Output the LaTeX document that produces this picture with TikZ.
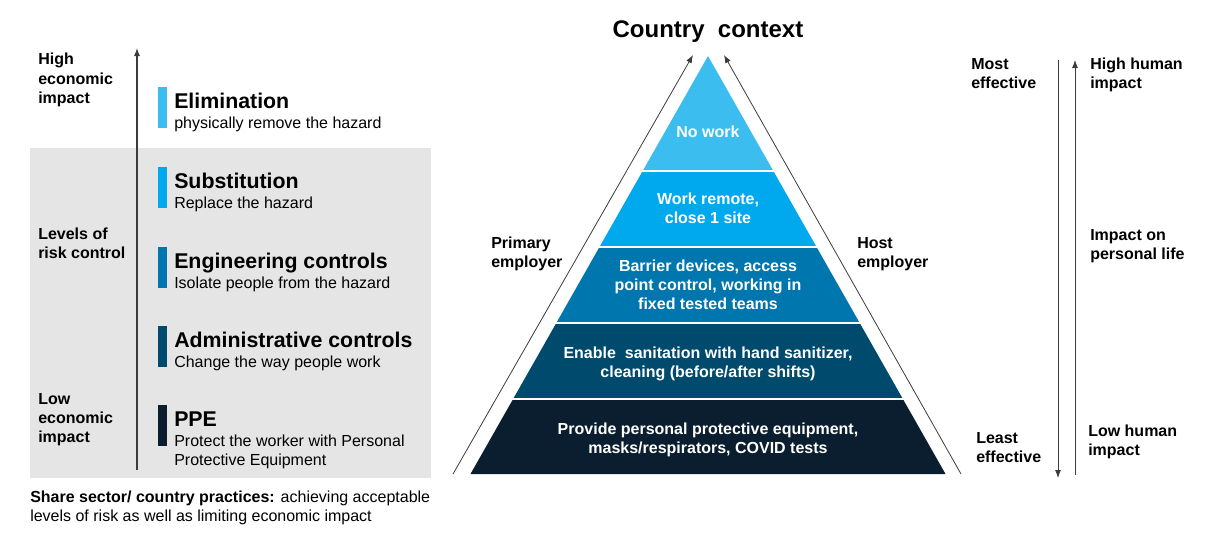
\documentclass[tikz,border=0pt]{standalone}
\usepackage{fontspec}
\setmainfont{Liberation Sans}
\usetikzlibrary{arrows.meta,positioning}

\definecolor{lvlOne}{HTML}{3BBDF0}
\definecolor{lvlTwo}{HTML}{00A9EE}
\definecolor{lvlThree}{HTML}{0076AE}
\definecolor{lvlFour}{HTML}{004A6E}
\definecolor{lvlFive}{HTML}{0A1E2F}
\definecolor{boxGray}{HTML}{E5E5E5}
\definecolor{axisGray}{HTML}{3C3C3C}

\newcommand\bodyFont{\fontsize{12}{14.25}\selectfont}
\newcommand\apexX{708}
\newcommand\apexY{56}
\newcommand\pyrSlope{0.5682}

\begin{document}
\begin{tikzpicture}[x=0.75pt,y={(0pt,-0.75pt)},
    sideLabel/.style={font=\bodyFont\bfseries,align=left,anchor=base west,inner sep=0pt},
    lvlTitle/.style={font=\fontsize{16}{19}\selectfont\bfseries,anchor=base west,inner sep=0pt},
    lvlSub/.style={font=\bodyFont,align=left,anchor=base west,inner sep=0pt},
    bandText/.style={font=\bodyFont\bfseries,text=white,align=center,anchor=base,inner sep=0pt},
    axisArrow/.style={draw=axisGray,line width=0.8pt,-{Latex[length=6pt,width=4.5pt]}},
    sideArrow/.style={draw=axisGray,line width=0.6pt,-{Latex[length=6pt,width=4.5pt]}}]
    \useasboundingbox (0,0) rectangle (1222,546);

    % grey panel
    \fill[boxGray] (30,148) rectangle (431,478);

    % economic impact axis
    \coordinate (econLow) at (137,470);
    \coordinate (econHigh) at (137,48);
    \draw[axisArrow] (econLow) -- (econHigh);

    % axis labels (placed at the baseline of the last line)
    \node[sideLabel] (highEcon) at (38,103) {High\\economic\\impact};
    \node[sideLabel] (riskLevels) at (38,258) {Levels of\\risk control};
    \node[sideLabel] (lowEcon) at (38,442) {Low\\economic\\impact};

    % hierarchy of controls
    \foreach \y/\ds/\col/\name/\title/\sub in {108/20.5/lvlOne/elim/Elimination/physically remove the hazard,
        188/20.5/lvlTwo/subst/Substitution/Replace the hazard,
        268/20.5/lvlThree/eng/Engineering controls/Isolate people from the hazard,
        347/20.5/lvlFour/admin/Administrative controls/Change the way people work,
        426/39.5/lvlFive/ppe/PPE/{Protect the worker with Personal\\Protective Equipment}} {
      \fill[\col] (158,\y-21) rectangle (166.5,\y+20);
      \node[lvlTitle] (\name) at (174,\y) {\title};
      \node[lvlSub] (\name Sub) at (174,\y+\ds) {\sub};
    }

    % note below panel
    \node[lvlSub] (note) at (30,521) {\textbf{Share sector/ country practices:} achieving acceptable\\levels of risk as well as limiting economic impact};

    % pyramid bands
    \foreach \ya/\yb/\col in {56/171/lvlOne,171/247/lvlTwo,247/323/lvlThree,323/399/lvlFour,399/474/lvlFive} {
      \pgfmathsetmacro\wa{(\ya-\apexY)*\pyrSlope}
      \pgfmathsetmacro\wb{(\yb-\apexY)*\pyrSlope}
      \fill[\col] (\apexX-\wa,\ya) -- (\apexX+\wa,\ya) -- (\apexX+\wb,\yb) -- (\apexX-\wb,\yb) -- cycle;
    }

    % band separators
    \foreach \ys in {171,247,323,399} {
      \pgfmathsetmacro\ws{(\ys-\apexY)*\pyrSlope}
      \draw[white,line width=1.5pt] (\apexX-\ws-2,\ys) -- ++(2*\ws+4,0);
    }

    % band texts
    \foreach \y/\name/\txt in {137/noWork/No work,
        223/remote/{Work remote,\\close 1 site},
        309/barrier/{Barrier devices, access\\point control, working in\\fixed tested teams},
        377/sanit/{Enable~ sanitation with hand sanitizer,\\cleaning (before/after shifts)},
        453/protect/{Provide personal protective equipment,\\masks/respirators, COVID tests}} {
      \node[bandText] (\name) at (\apexX,\y) {\txt};
    }

    % title
    \node[font=\fontsize{18}{21}\selectfont\bfseries,anchor=base,inner sep=0pt] (country) at (\apexX,37) {Country~ context};

    % employer arrows
    \coordinate (primBase) at (453,474);
    \coordinate (primTop) at (693,55);
    \coordinate (hostBase) at (961,474);
    \coordinate (hostTop) at (724,55);
    \draw[sideArrow] (primBase) -- (primTop);
    \draw[sideArrow] (hostBase) -- (hostTop);
    \node[sideLabel] (primary) at (491,267) {Primary\\employer};
    \node[sideLabel] (host) at (857,267) {Host\\employer};

    % effectiveness and human impact axes
    \coordinate (effTop) at (1058,60);
    \coordinate (effBot) at (1058,478);
    \coordinate (humBot) at (1075,475);
    \coordinate (humTop) at (1075,60);
    \draw[sideArrow] (effTop) -- (effBot);
    \draw[sideArrow] (humBot) -- (humTop);

    \node[sideLabel] (mostEff) at (971,88) {Most\\effective};
    \node[sideLabel] (leastEff) at (976,462) {Least\\effective};
    \node[sideLabel] (highHum) at (1090,88) {High human\\impact};
    \node[sideLabel] (persLife) at (1090,259) {Impact on\\personal life};
    \node[sideLabel] (lowHum) at (1088,455) {Low human\\impact};
  \end{tikzpicture}
\end{document}
